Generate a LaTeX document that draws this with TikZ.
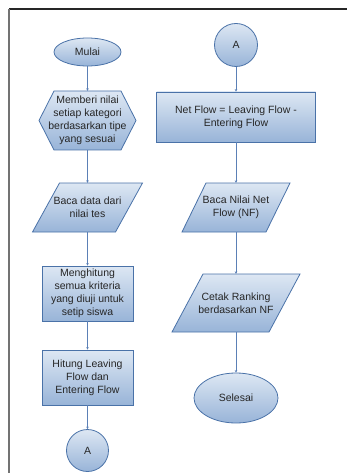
\documentclass[tikz,border=0pt]{standalone}
\usepackage{fontspec}
\setmainfont{Liberation Sans}
\usetikzlibrary{shapes.geometric,arrows.meta}
\definecolor{edgeblue}{HTML}{4A72A8}
\definecolor{lineblue}{HTML}{5B80B6}
\definecolor{filltop}{HTML}{DDE7F3}
\definecolor{fillbot}{HTML}{98B4D8}
\begin{document}
\begin{tikzpicture}[x=1pt,y=-1pt,
  shapebox/.style={draw=edgeblue, line width=0.8pt, top color=filltop, bottom color=fillbot},
  txt/.style={font=\fontsize{10.5}{13}\selectfont, text=black!85, align=center, inner sep=0pt},
  conn/.style={draw=lineblue, line width=0.7pt, -{Stealth[length=2.5pt,width=2.5pt]}}]
\useasboundingbox (0,0) rectangle (347,473);
% frame
\draw[line width=1.3pt, black!85] (9,9) -- (347,9);
\draw[line width=1.3pt, black!55] (9,9) -- (9,473);

% left column
\node[shapebox, txt, ellipse, minimum width=67pt, minimum height=28pt] (mulai) at (87.5,52) {Mulai};

\path[shapebox] (39,120.5) -- (54,91) -- (121,91) -- (136,120.5) -- (121,150) -- (54,150) -- cycle;
\node[txt, minimum width=82pt, minimum height=59pt] (hex) at (87.5,120.5) {Memberi nilai\\setiap kategori\\berdasarkan tipe\\yang sesuai};

\path[shapebox] (59.5,183) -- (142.5,183) -- (115.5,232) -- (32.5,232) -- cycle;
\node[txt, minimum width=60pt, minimum height=49pt] (par1) at (87.5,207.5) {Baca data dari\\nilai tes};

\node[shapebox, txt, rectangle, minimum width=91pt, minimum height=55pt] (rect1) at (87.5,293.5) {Menghitung\\semua kriteria\\yang diuji untuk\\setip siswa};
\node[shapebox, txt, rectangle, minimum width=91pt, minimum height=55pt] (rect2) at (87.5,377.5) {Hitung Leaving\\Flow dan\\Entering Flow};
\node[shapebox, txt, circle, minimum size=42pt] (a1) at (87.5,450.5) {A};

% right column
\node[shapebox, txt, circle, minimum size=43pt] (a2) at (236,45) {A};
\node[shapebox, txt, rectangle, minimum width=159pt, minimum height=50pt] (rect3) at (236,117) {Net Flow = Leaving Flow -\\Entering Flow};

\path[shapebox] (206,183) -- (290,183) -- (266,232) -- (182,232) -- cycle;
\node[txt, minimum width=60pt, minimum height=49pt] (par2) at (236,207.5) {Baca Nilai Net\\Flow (NF)};

\path[shapebox] (203,274) -- (300,274) -- (269,332) -- (172,332) -- cycle;
\node[txt, minimum width=60pt, minimum height=58pt] (par3) at (236,303) {Cetak Ranking\\berdasarkan NF};

\node[shapebox, txt, ellipse, minimum width=84pt, minimum height=50pt] (selesai) at (236,398) {Selesai};

% connectors
\draw[conn] (mulai.south) -- (hex.north);
\draw[conn] (hex.south) -- (par1.north);
\draw[conn] (par1.south) -- (rect1.north);
\draw[conn] (rect1.south) -- (rect2.north);
\draw[conn] (rect2.south) -- (a1.north);
\draw[conn] (a2.south) -- (rect3.north);
\draw[conn] (rect3.south) -- (par2.north);
\draw[conn] (par2.south) -- (par3.north);
\draw[conn] (par3.south) -- (selesai.north);
\end{tikzpicture}
\end{document}
